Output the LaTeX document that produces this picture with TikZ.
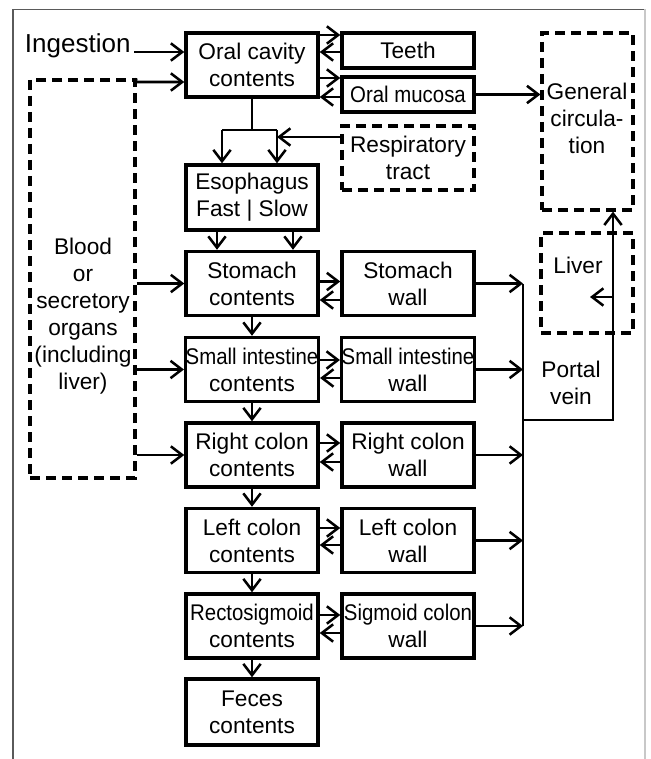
\documentclass[tikz,border=0pt]{standalone}
\usepackage{fontspec}
\setmainfont{Liberation Sans}
\newfontfamily\narrowsf[FakeStretch=0.9]{Liberation Sans}
\usetikzlibrary{arrows.meta,calc}

\tikzset{every picture/.style={line width=0.75pt}}
\tikzset{
  box/.style={draw, line width=2.6pt, minimum width=99pt, minimum height=48pt, inner sep=0pt, align=center, font=\fontsize{17}{20.3}\selectfont},
  dashbox/.style={box, line width=2.4pt, dash pattern={on 7.5pt off 4.5pt}},
  txt/.style={align=center, inner sep=0pt, font=\fontsize{17}{20.3}\selectfont},
  flow/.style={line width=1.9pt, -{Straight Barb[length=8.5pt,width=13pt]}},
  pipe/.style={line width=1.9pt}
}

\begin{document}
\begin{tikzpicture}[x=0.75pt,y=0.75pt,yscale=-1,xscale=1]
	\useasboundingbox (0,0) rectangle (650,759);
	%frame
	\draw [color={rgb, 255:red, 90; green, 90; blue, 90 }, line width=1pt] (13,759) -- (13,9.5) -- (645,9.5);
	\draw [color={rgb, 255:red, 200; green, 200; blue, 200 }, line width=1pt] (645,9.5) -- (645,759);

	% mouth and throat
	\node [box] (oral) at (252,65) {Oral cavity\\contents};
	\node [box, minimum height=26.25pt] (teeth) at (408,50.5) {Teeth};
	\node [box, minimum height=26.25pt] (mucosa) at (408,94.5) {\narrowsf Oral mucosa};
	\node [dashbox] (resp) at (408,158) {Respiratory\\tract};
	\node [dashbox, minimum width=68.25pt, minimum height=132.75pt] (gencirc) at (587.5,121.5) {};
	\node [txt] (gentxt) at (587,118) {General\\circula-\\tion};
	\node [box, minimum height=48.75pt] (esoph) at (252,197.5) {Esophagus\\Fast | Slow};

	% gut contents
	\node [box] (stomach) at (252,283.5) {Stomach\\contents};
	\node [box] (smint) at (252,369.5) {\narrowsf Small intestine\\contents};
	\node [box] (rcol) at (252,455) {Right colon\\contents};
	\node [box] (lcol) at (252,540.5) {Left colon\\contents};
	\node [box] (recto) at (252,626) {\narrowsf Rectosigmoid\\contents};
	\node [box, minimum height=49.5pt] (feces) at (252,712) {Feces\\contents};

	% gut walls
	\node [box] (stomwall) at (408,283.5) {Stomach\\wall};
	\node [box] (smwall) at (408,369.5) {\narrowsf Small intestine\\wall};
	\node [box] (rcwall) at (408,455) {Right colon\\wall};
	\node [box] (lcwall) at (408,540.5) {Left colon\\wall};
	\node [box] (sigwall) at (408,626) {\narrowsf Sigmoid colon\\wall};

	% blood and liver
	\node [dashbox, minimum width=78.75pt, minimum height=298.5pt] (blood) at (82.5,279) {};
	\node [txt] (bloodtxt) at (83,316) {Blood\\or\\secretory\\organs\\(including\\liver)};
	\node [dashbox, minimum width=69pt, minimum height=75pt] (liver) at (587,283) {};
	\node [txt] (livertxt) at (578,265) {Liver};
	\node [txt] (portaltxt) at (571,383) {Portal\\vein};
	\node [txt, anchor=base east, font=\fontsize{19.5}{22}\selectfont] (ingest) at (131,53) {Ingestion};

	\coordinate (ingin) at (134,52);
	\coordinate (bloodtop) at (135,82);
	\coordinate (splitL) at (222,130);
	\coordinate (splitR) at (277,130);
	\coordinate (pvtop) at (523,284);
	\coordinate (pvbot) at (523,626);
	\coordinate (pvjoin) at (523,420);
	\coordinate (pvup) at (613,420);
	\coordinate (livin) at (613,297);
	\coordinate (livtip) at (590,297);

	% into the mouth
	\draw [flow] (ingin) -- (ingin -| oral.west);
	\draw [flow] (blood.north east) -- (bloodtop) -- (bloodtop -| oral.west);
	\draw [flow] ($(oral.east)+(0,-30)$) -- ($(teeth.west)+(0,-15.5)$);
	\draw [flow] ($(teeth.west)+(0,1.5)$) -- ($(oral.east)+(0,-13)$);
	\draw [flow] ($(oral.east)+(0,13)$) -- ($(mucosa.west)+(0,-16.5)$);
	\draw [flow] ($(mucosa.west)+(0,2.5)$) -- ($(oral.east)+(0,32)$);
	\draw [flow] (mucosa.east) -- (mucosa.east -| gencirc.west);

	% down to the esophagus
	\draw [pipe] (oral.south) -- (oral.south |- splitL);
	\draw [pipe] (splitL) -- (splitR);
	\draw [flow] (splitL) -- (splitL |- esoph.north);
	\draw [flow] (splitR) -- (splitR |- esoph.north);
	\draw [flow] ($(resp.west)+(0,-21)$) -- ($(resp.west -| splitR)+(0,-21)$);
	\draw [flow] ($(esoph.south)+(-35,0)$) -- ($(stomach.north)+(-35,0)$);
	\draw [flow] ($(esoph.south)+(41,0)$) -- ($(stomach.north)+(41,0)$);

	% down the gut
	\draw [flow] (stomach) -- (smint);
	\draw [flow] (smint) -- (rcol);
	\draw [flow] (rcol) -- (lcol);
	\draw [flow] (lcol) -- (recto);
	\draw [flow] (recto) -- (feces);

	% blood to contents
	\draw [flow] (blood.east |- stomach) -- (stomach.west);
	\draw [flow] (blood.east |- smint) -- (smint.west);
	\draw [flow] (blood.east |- rcol) -- (rcol.west);

	% contents and walls
	\draw [flow] ($(stomach.east)+(0,-2)$) -- ($(stomwall.west)+(0,-2)$);
	\draw [flow] ($(stomwall.west)+(0,16.5)$) -- ($(stomach.east)+(0,16.5)$);
	\draw [flow] ($(smint.east)+(0,-9.5)$) -- ($(smwall.west)+(0,-9.5)$);
	\draw [flow] ($(smwall.west)+(0,8.5)$) -- ($(smint.east)+(0,8.5)$);
	\draw [flow] ($(rcol.east)+(0,-12)$) -- ($(rcwall.west)+(0,-12)$);
	\draw [flow] ($(rcwall.west)+(0,7)$) -- ($(rcol.east)+(0,7)$);
	\draw [flow] ($(lcol.east)+(0,-12.5)$) -- ($(lcwall.west)+(0,-12.5)$);
	\draw [flow] ($(lcwall.west)+(0,4.5)$) -- ($(lcol.east)+(0,4.5)$);
	\draw [flow] ($(recto.east)+(0,-11)$) -- ($(sigwall.west)+(0,-11)$);
	\draw [flow] ($(sigwall.west)+(0,7)$) -- ($(recto.east)+(0,7)$);

	% portal vein
	\draw [flow] (stomwall.east) -- (stomwall.east -| pvtop);
	\draw [flow] (smwall.east) -- (smwall.east -| pvtop);
	\draw [flow] (rcwall.east) -- (rcwall.east -| pvtop);
	\draw [flow] (lcwall.east) -- (lcwall.east -| pvtop);
	\draw [flow] (sigwall.east) -- (sigwall.east -| pvtop);
	\draw [pipe] (pvtop) -- (pvbot);
	\draw [flow] (pvjoin) -- (pvup) -- (pvup |- gencirc.south);
	\draw [flow] (livin) -- (livtip);

\end{tikzpicture}
\end{document}
